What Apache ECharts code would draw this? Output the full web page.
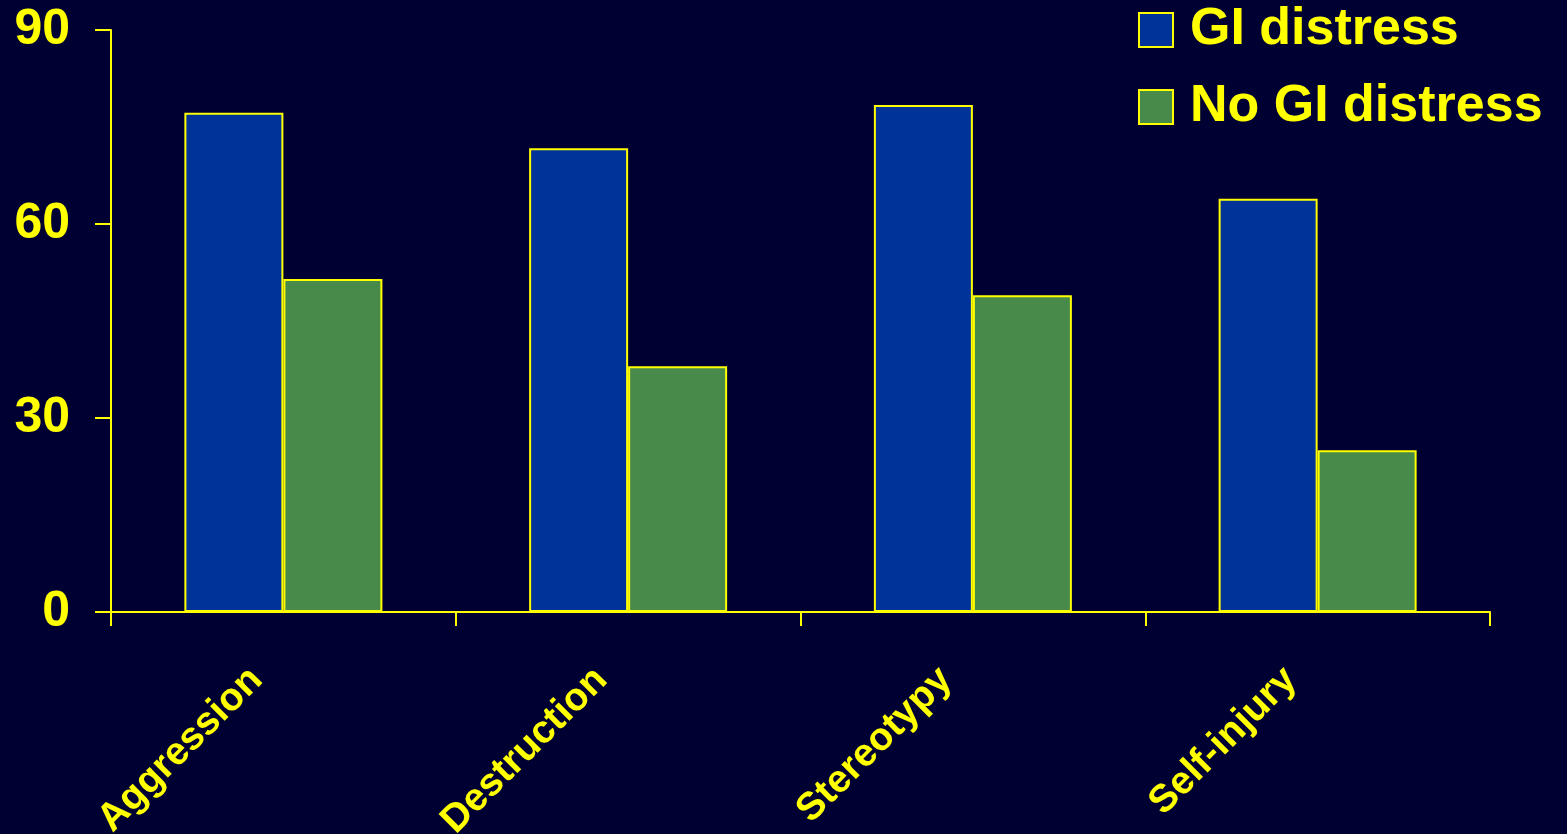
<!DOCTYPE html>
<html><head><meta charset="utf-8">
<script src="https://cdn.jsdelivr.net/npm/echarts@6/dist/echarts.min.js"></script>
<style>html,body{margin:0;padding:0;background:#000033;}#c{width:1567px;height:834px;}</style>
</head><body><div id="c"></div>
<script>
const categories = ['Aggression', 'Destruction', 'Stereotypy', 'Self-injury'];
const giDistress = [77.2, 71.7, 78.4, 63.9];
const noGiDistress = [51.5, 38.0, 49.0, 25.0];
const seriesNames = ['GI distress', 'No GI distress'];

const yellow = '#FFFF00';
const font = '"Liberation Sans", Arial, sans-serif';
const chart = echarts.init(document.getElementById('c'));
chart.setOption({
  backgroundColor: '#000033',
  animation: false,
  textStyle: { fontFamily: font },
  grid: { left: 111, right: 77, top: 30, bottom: 222, containLabel: false, outerBoundsMode: 'none' },
  legend: {
    orient: 'vertical', left: 1138, top: 4, padding: 0,
    icon: 'rect',
    itemWidth: 34, itemHeight: 34, itemGap: 25,
    textStyle: { color: yellow, fontSize: 52, fontWeight: 'bold', fontFamily: font, lineHeight: 50, padding: [0, 0, 0, 12] },
    data: seriesNames
  },
  xAxis: {
    type: 'category', data: categories,
    axisLine: { lineStyle: { color: yellow, width: 2 } },
    axisTick: { show: true, length: 14, lineStyle: { color: yellow, width: 2 } },
    axisLabel: { color: yellow, fontSize: 39, fontWeight: 'bold', fontFamily: font, rotate: 45, margin: 35, interval: 0, padding: [0, 38, 0, 0] }
  },
  yAxis: {
    type: 'value', min: 0, max: 90, interval: 30,
    splitLine: { show: false },
    axisLine: { show: true, lineStyle: { color: yellow, width: 2 } },
    axisTick: { show: true, length: 16, lineStyle: { color: yellow, width: 2 } },
    axisLabel: { color: yellow, fontSize: 50, fontWeight: 'bold', fontFamily: font, margin: 41 }
  },
  series: [
    { name: seriesNames[0], type: 'bar', data: giDistress, barWidth: 99, barGap: '0%',
      itemStyle: { color: '#003399', borderColor: yellow, borderWidth: 2 } },
    { name: seriesNames[1], type: 'bar', data: noGiDistress, barWidth: 99, barGap: '0%',
      itemStyle: { color: '#488a4a', borderColor: yellow, borderWidth: 2 } }
  ]
});
</script></body></html>
